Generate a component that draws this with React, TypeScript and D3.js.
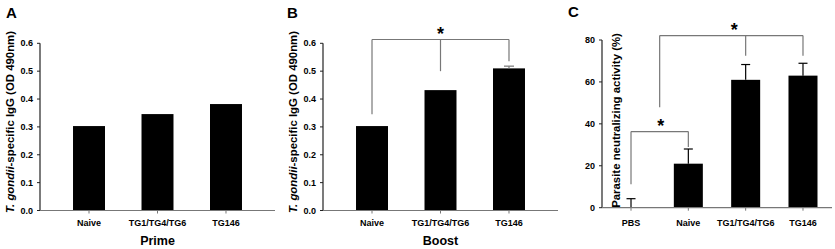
import React from "react";
import * as d3 from "d3";

// ---------- data ----------
const categoriesAB = ["Naive", "TG1/TG4/TG6", "TG146"];
const primeValues = [0.303, 0.346, 0.382];
const boostValues = [0.303, 0.432, 0.51];
const boostErrors = [0, 0, 0.008];
const odTicks = [0, 0.1, 0.2, 0.3, 0.4, 0.5, 0.6];

const categoriesC = ["PBS", "Naive", "TG1/TG4/TG6", "TG146"];
const neutralValues = [0, 21, 61, 63];
const neutralErrors = [4.3, 7, 7.3, 5.9];
const pctTicks = [0, 20, 40, 60, 80];

const FONT = "'Liberation Sans', Arial, Helvetica, sans-serif";
const AXIS_Y = "#222";
const AXIS_X = "#777";
const BRACKET = "#777";

type Bracket = {
  left: number;
  right: number;
  top: number;
  drops: { x: number; to: number }[];
  starX: number;
};

function BarPanel(props: {
  letter: string;
  x0: number;
  x1: number;
  pi: number;
  po: number;
  yDomain: [number, number];
  yRange: [number, number];
  ticks: number[];
  tickFmt: (v: number) => string;
  cats: string[];
  values: number[];
  errors?: number[];
  capW: number;
  yLabel: React.ReactNode;
  yLabelX: number;
  yLabelY: number;
  xTitle?: string;
  letterX: number;
  letterY: number;
  brackets?: (x: d3.ScaleBand<string>, y: d3.ScaleLinear<number, number>) => Bracket[];
  starDy: number;
  errColor: string;
}) {
  const x = d3
    .scaleBand<string>()
    .domain(props.cats)
    .range([props.x0, props.x1])
    .paddingInner(props.pi)
    .paddingOuter(props.po);
  const y = d3.scaleLinear().domain(props.yDomain).range(props.yRange);
  const y0 = y(0);
  const bw = x.bandwidth();
  const brackets = props.brackets ? props.brackets(x, y) : [];
  return (
    <g fontFamily={FONT} fontWeight="bold">
      <text x={props.letterX} y={props.letterY} fontSize={15}>
        {props.letter}
      </text>
      {props.cats.map((c, i) => (
        <rect
          key={c}
          x={x(c)!}
          y={y(props.values[i])}
          width={bw}
          height={y0 - y(props.values[i])}
          fill="#000"
        />
      ))}
      {props.errors &&
        props.cats.map((c, i) => {
          const e = props.errors![i];
          if (!e) return null;
          const cx = x(c)! + bw / 2;
          const top = y(props.values[i] + e);
          return (
            <g key={"e" + c} stroke={props.errColor} strokeWidth={1.2}>
              <line x1={cx} x2={cx} y1={y(props.values[i])} y2={top} />
              <line x1={cx - props.capW / 2} x2={cx + props.capW / 2} y1={top} y2={top} />
            </g>
          );
        })}
      <line x1={props.x0} x2={props.x0} y1={y(props.yDomain[1])} y2={y0} stroke={AXIS_Y} strokeWidth={1.2} />
      {props.ticks.map((t) => (
        <g key={"t" + t}>
          <line x1={props.x0 - 3} x2={props.x0} y1={y(t)} y2={y(t)} stroke={AXIS_Y} strokeWidth={1} />
          <text x={props.x0 - 7} y={y(t)} dy="0.35em" textAnchor="end" fontSize={9}>
            {props.tickFmt(t)}
          </text>
        </g>
      ))}
      <line x1={props.x0} x2={props.x1} y1={y0} y2={y0} stroke={AXIS_X} strokeWidth={1.2} />
      {props.cats.map((c) => {
        const cx = x(c)! + bw / 2;
        return (
          <g key={"x" + c}>
            <line x1={cx} x2={cx} y1={y0} y2={y0 + 3} stroke={AXIS_X} strokeWidth={1} />
            <text x={cx} y={226} textAnchor="middle" fontSize={9}>
              {c}
            </text>
          </g>
        );
      })}
      {props.xTitle && (
        <text x={(props.x0 + props.x1) / 2} y={245} textAnchor="middle" fontSize={12.5}>
          {props.xTitle}
        </text>
      )}
      <text
        transform={`translate(${props.yLabelX},${props.yLabelY}) rotate(-90)`}
        textAnchor="middle"
        fontSize={11.4}
      >
        {props.yLabel}
      </text>
      {brackets.map((b, i) => (
        <g key={"b" + i}>
          <line x1={b.left} x2={b.right} y1={y(b.top)} y2={y(b.top)} stroke={BRACKET} strokeWidth={1.2} />
          {b.drops.map((d, j) => (
            <line key={j} x1={d.x} x2={d.x} y1={y(b.top)} y2={y(d.to)} stroke={BRACKET} strokeWidth={1.2} />
          ))}
          <text x={b.starX} y={y(b.top) + props.starDy} textAnchor="middle" fontSize={18}>
            *
          </text>
        </g>
      ))}
    </g>
  );
}

const odLabel = (
  <>
    <tspan fontStyle="italic">T. gondii</tspan>
    <tspan>-specific IgG (OD 490nm)</tspan>
  </>
);

export default function App() {
  const center = (x: d3.ScaleBand<string>, c: string) => x(c)! + x.bandwidth() / 2;
  return (
    <svg
      width={835}
      height={249}
      style={{ position: "absolute", left: 0, top: 0, background: "#fff" }}
    >
      <rect width={835} height={249} fill="#fff" />
      <BarPanel
        letter="A"
        letterX={6}
        letterY={18}
        x0={40}
        x1={275}
        pi={0.533}
        po={0.482}
        yDomain={[0, 0.6]}
        yRange={[210.5, 43.3]}
        ticks={odTicks}
        tickFmt={d3.format(".1f")}
        cats={categoriesAB}
        values={primeValues}
        capW={10}
        yLabel={odLabel}
        yLabelX={14}
        yLabelY={122}
        xTitle="Prime"
        starDy={0}
        errColor="#777"
      />
      <BarPanel
        letter="B"
        letterX={287}
        letterY={18}
        x0={323}
        x1={558}
        pi={0.533}
        po={0.482}
        yDomain={[0, 0.6]}
        yRange={[210.5, 43.3]}
        ticks={odTicks}
        tickFmt={d3.format(".1f")}
        cats={categoriesAB}
        values={boostValues}
        errors={boostErrors}
        capW={10}
        yLabel={odLabel}
        yLabelX={297}
        yLabelY={122}
        xTitle="Boost"
        starDy={0.5}
        errColor="#777"
        brackets={(x) => [
          {
            left: center(x, "Naive"),
            right: center(x, "TG146"),
            top: 0.6136,
            drops: [
              { x: center(x, "Naive"), to: 0.345 },
              { x: center(x, "TG1/TG4/TG6"), to: 0.5 },
              { x: center(x, "TG146"), to: 0.536 },
            ],
            starX: center(x, "TG1/TG4/TG6"),
          },
        ]}
      />
      <BarPanel
        letter="C"
        letterX={568}
        letterY={17}
        x0={602}
        x1={832}
        pi={0.494}
        po={0.253}
        yDomain={[0, 80]}
        yRange={[207.7, 40]}
        ticks={pctTicks}
        tickFmt={d3.format("d")}
        cats={categoriesC}
        values={neutralValues}
        errors={neutralErrors}
        capW={9}
        yLabel="Parasite neutralizing activity (%)"
        yLabelX={620}
        yLabelY={120.5}
        starDy={0.5}
        errColor="#000"
        brackets={(x) => {
          const pbs = center(x, "PBS");
          const naive = center(x, "Naive");
          const tg1 = center(x, "TG1/TG4/TG6");
          const tg146 = center(x, "TG146");
          const mid = (pbs + naive) / 2;
          return [
            {
              left: pbs,
              right: naive,
              top: 36.3,
              drops: [
                { x: pbs, to: 11.2 },
                { x: naive, to: 29 },
              ],
              starX: (pbs + naive) / 2 + 1,
            },
            {
              left: mid,
              right: tg146,
              top: 82.1,
              drops: [
                { x: mid, to: 47.9 },
                { x: tg1, to: 72.5 },
                { x: tg146, to: 72.5 },
              ],
              starX: (mid + tg146) / 2 + 3,
            },
          ];
        }}
      />
    </svg>
  );
}
